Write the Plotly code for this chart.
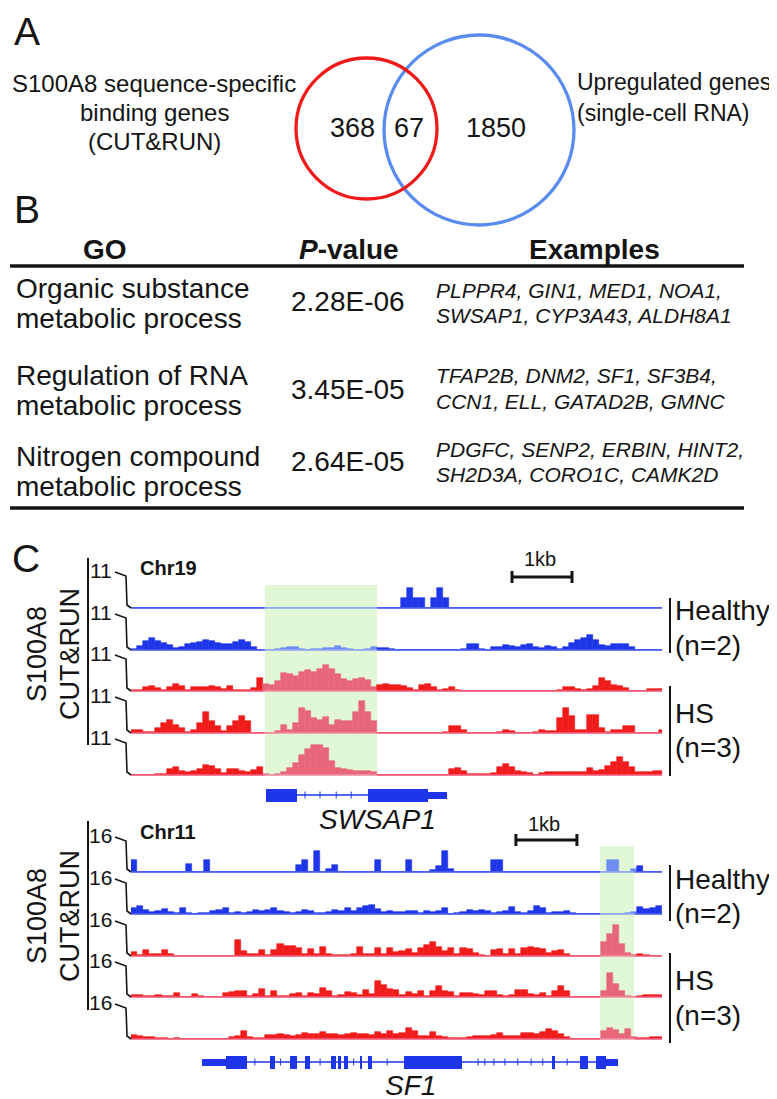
import plotly.graph_objects as go

# ======================= DATA =======================
# Panel A - Venn
venn_left_lines = ["S100A8 sequence-specific", "binding genes", "(CUT&RUN)"]
venn_right_lines = ["Upregulated genes", "(single-cell RNA)"]
venn_counts = [368, 67, 1850]  # CUT&RUN only, overlap, scRNA only

# Panel B - GO table
table_headers = ["<b>GO</b>", "<b><i>P</i>-value</b>", "<b>Examples</b>"]
go_terms = [["Organic substance", "metabolic process"],
            ["Regulation of RNA", "metabolic process"],
            ["Nitrogen compound", "metabolic process"]]
go_pvalues = ["2.28E-06", "3.45E-05", "2.64E-05"]
go_examples = [["PLPPR4, GIN1, MED1, NOA1,", "SWSAP1, CYP3A43, ALDH8A1"],
               ["TFAP2B, DNM2, SF1, SF3B4,", "CCN1, ELL, GATAD2B, GMNC"],
               ["PDGFC, SENP2, ERBIN, HINT2,", "SH2D3A, CORO1C, CAMK2D"]]

# Panel C - CUT&RUN coverage (0.1 kb bins)
bin_kb = 0.1
track_groups = ["Healthy", "Healthy", "HS", "HS", "HS"]
group_labels = {"Healthy": ["Healthy", "(n=2)"], "HS": ["HS", "(n=3)"]}

chr19_max = 11
chr19_view_kb = 8.85
chr19_highlight_kb = [2.23, 4.10]
chr19_scalebar_kb = [6.35, 7.35]
chr19_healthy_1 = [0, 0, 0, 0, 0, 0, 0, 0, 0, 0,
                   0, 0, 0, 0, 0, 0, 0, 0, 0, 0,
                   0, 0, 0, 0, 0, 0, 0, 0, 0, 0,
                   0, 0, 0, 0, 0, 0, 0, 0, 0, 0,
                   0, 0, 0, 0, 0, 2.9, 5.8, 2.9, 2.9, 0,
                   2.9, 5.8, 2.9, 0, 0, 0, 0, 0, 0, 0,
                   0, 0, 0, 0, 0, 0, 0, 0, 0, 0,
                   0, 0, 0, 0, 0, 0, 0, 0, 0, 0,
                   0, 0, 0, 0, 0, 0, 0, 0, 0]
chr19_healthy_2 = [0.2, 1.2, 2.5, 3.5, 2.6, 2.0, 1.5, 0.5, 1.0, 1.6,
                   2.0, 2.3, 2.9, 2.5, 2.0, 1.6, 1.7, 2.2, 2.9, 2.3,
                   1.0, 0, 0, 0, 0.2, 0.5, 1.0, 0.8, 0.3, 0,
                   0.2, 0.3, 0.6, 0.6, 1.1, 0.6, 0.2, 0, 0, 0.3,
                   0.8, 0.6, 0.6, 0.3, 0, 0, 0, 0, 0, 0,
                   0, 0, 0, 0, 0, 0.3, 1.6, 1.6, 0.3, 0,
                   0.8, 1.0, 1.5, 1.3, 1.0, 1.5, 1.6, 1.0, 0.6, 1.2,
                   1.0, 0.3, 0.8, 2.0, 3.0, 3.5, 4.2, 3.0, 1.5, 1.3,
                   1.6, 1.7, 1.6, 0.8, 0, 0, 0, 0, 0]
chr19_hs_1 = [0.3, 0.3, 1.2, 1.4, 1.0, 0.3, 1.3, 1.9, 1.5, 0.3,
              1.3, 1.3, 1.2, 1.5, 1.3, 0.5, 1.5, 0.3, 0.4, 0.4,
              0.8, 3.9, 2.0, 1.8, 3.0, 5.2, 5.0, 4.3, 5.5, 6.0,
              5.6, 6.4, 7.6, 6.3, 5.0, 3.5, 3.0, 3.5, 3.8, 3.2,
              1.3, 1.8, 1.9, 1.6, 1.8, 1.5, 1.0, 0.3, 1.7, 2.0,
              1.3, 0.2, 0.5, 1.3, 0.2, 0, 0, 0, 0, 0,
              0, 0, 0, 0, 0, 0, 0, 0, 0, 0,
              0, 0.3, 1.2, 1.1, 0.5, 0.4, 0.5, 1.5, 3.7, 2.8,
              1.6, 1.4, 1.0, 0, 0, 0, 0.5, 0.5, 0.5]
chr19_hs_2 = [0.8, 0.8, 0.2, 0.2, 1.5, 2.9, 3.8, 2.2, 1.5, 0.2,
              1.0, 3.0, 6.0, 3.5, 1.9, 0.5, 1.9, 3.5, 5.0, 3.5,
              0, 0, 0, 0, 0.5, 2.2, 1.0, 3.0, 7.3, 6.5,
              4.2, 3.8, 4.6, 2.4, 3.9, 3.4, 3.4, 6.0, 9.3, 6.0,
              3.5, 0, 0, 0, 0, 0, 0, 0, 0, 0,
              0, 0, 0.3, 1.9, 1.9, 1.0, 0, 0, 0, 0,
              0, 0.3, 0.8, 0.6, 0, 0, 0, 0.4, 0.8, 0.5,
              0.5, 4.3, 7.2, 4.8, 1.0, 1.0, 5.1, 5.1, 1.5, 0.3,
              0.9, 1.0, 1.9, 1.9, 0, 0, 0, 0, 0.8]
chr19_hs_3 = [0, 0, 0, 0, 0.2, 0.3, 1.8, 2.4, 1.2, 0.9,
              1.2, 1.6, 2.8, 2.5, 1.7, 0.5, 1.6, 1.6, 1.1, 0.9,
              1.5, 2.4, 0.3, 0, 0.3, 1.0, 2.0, 3.4, 5.8, 7.5,
              8.6, 8.8, 7.8, 4.0, 1.9, 1.8, 1.5, 1.3, 1.2, 1.2,
              1.0, 0, 0, 0, 0, 0, 0, 0, 0, 0,
              0, 0, 0, 1.6, 2.1, 1.2, 0.4, 0.2, 0.2, 0.2,
              0.6, 2.2, 3.2, 2.4, 1.3, 1.0, 0.7, 0, 0.6, 0.8,
              0.8, 0.9, 0.8, 0.9, 0.9, 1.0, 1.9, 1.3, 1.5, 2.6,
              3.8, 5.3, 3.8, 2.2, 0.8, 0.9, 0.9, 1.2, 1.2]

chr11_max = 16
chr11_view_kb = 8.705
chr11_highlight_kb = [7.69, 8.25]
chr11_scalebar_kb = [6.31, 7.31]
chr11_healthy_1 = [5.3, 0, 0, 0, 0, 0, 0, 0, 0, 3.5,
                   0, 0, 5.3, 0, 0, 0, 0, 0, 0, 0,
                   0, 0, 0, 0, 0, 0, 0, 3.0, 5.3, 0,
                   8.9, 0, 1.5, 2.9, 0, 0, 0, 0, 0, 0,
                   5.3, 0, 0, 0, 0, 5.3, 0, 0, 0, 1.0,
                   2.4, 8.9, 1.2, 0, 0, 0, 0, 0, 0, 5.3,
                   5.3, 0, 0, 0, 0, 0, 0, 0, 0, 0,
                   0, 0, 0, 0, 0, 0, 0, 0, 5.3, 5.3,
                   0, 0, 1.5, 2.4, 0, 0, 0]
chr11_healthy_2 = [2.5, 3.6, 1.7, 0.9, 1.5, 2.0, 0.9, 0.6, 2.4, 0.3,
                   0, 0.3, 0.3, 1.3, 1.6, 2.5, 0.5, 1.0, 0.5, 1.0,
                   1.8, 1.3, 1.8, 2.8, 1.1, 0.8, 0.6, 1.0, 1.8, 1.2,
                   0.4, 0.5, 0.9, 1.6, 1.2, 2.7, 1.5, 2.6, 3.3, 4.0,
                   2.2, 1.0, 1.2, 1.0, 1.0, 1.5, 1.3, 0.6, 1.1, 1.0,
                   1.2, 2.5, 0.2, 0.3, 0.8, 1.6, 1.2, 1.6, 1.1, 0.6,
                   1.0, 1.2, 3.0, 1.0, 0.6, 1.5, 3.6, 2.5, 0.6, 1.0,
                   0.8, 1.2, 0.4, 0, 0, 0, 0, 0, 0, 0,
                   0, 0.4, 1.0, 3.0, 2.0, 2.5, 3.3]
chr11_hs_1 = [1.6, 0.6, 2.8, 0.8, 0.8, 2.6, 1.0, 0.2, 0, 0,
              0, 0, 0, 0, 0, 0, 0, 7.0, 2.0, 0.8,
              1.0, 2.5, 0.5, 2.5, 5.0, 4.5, 4.2, 3.3, 1.0, 3.0,
              0.7, 4.0, 0.8, 0.4, 0.4, 0.4, 0.8, 4.0, 0.7, 1.0,
              3.6, 1.0, 3.3, 1.6, 2.0, 3.0, 1.5, 3.3, 4.8, 6.0,
              4.0, 2.0, 3.3, 1.0, 3.3, 3.0, 1.2, 0.3, 0.2, 2.5,
              3.0, 1.0, 3.0, 1.0, 3.5, 4.0, 3.6, 3.0, 1.2, 2.2,
              2.6, 0.8, 0, 0, 0, 0, 0, 6.0, 9.5, 13.5,
              5.0, 1.2, 0.5, 0.7, 0.3, 0, 0]
chr11_hs_2 = [0.9, 1.0, 0.4, 0.4, 1.0, 0.4, 0.4, 1.7, 0.2, 0.2,
              1.2, 0.3, 0.2, 0.2, 0.2, 1.8, 2.0, 2.4, 2.6, 0.4,
              1.5, 3.5, 0.4, 2.8, 0.5, 0.4, 1.5, 1.8, 0.5, 1.8,
              1.2, 3.8, 2.5, 0.3, 1.0, 2.0, 1.8, 0.8, 3.0, 1.5,
              6.9, 5.0, 3.6, 2.9, 0.7, 2.0, 1.4, 2.6, 0.3, 2.5,
              4.8, 2.6, 2.2, 0.5, 1.9, 1.9, 1.2, 0.7, 2.6, 2.6,
              0.8, 0.4, 0.7, 3.0, 3.0, 1.2, 1.0, 1.8, 0.4, 2.6,
              4.8, 2.8, 0.2, 0, 0, 0, 0, 2.5, 10.5, 5.5,
              2.5, 0.4, 0, 0.4, 0.7, 0.7, 1.0]
chr11_hs_3 = [1.6, 1.4, 1.0, 0.8, 0.6, 0.4, 0.1, 0.6, 0.1, 0.1,
              0.1, 0.1, 0.1, 0.1, 0.1, 0.1, 0.8, 1.5, 3.6, 1.0,
              0.3, 0.5, 1.7, 1.7, 2.2, 1.8, 1.3, 1.7, 2.4, 2.0,
              2.2, 2.9, 2.0, 2.2, 1.6, 2.0, 2.4, 2.0, 2.2, 1.8,
              2.9, 2.2, 3.5, 2.0, 2.8, 4.9, 3.5, 1.3, 1.3, 3.2,
              1.3, 1.0, 0.4, 0.3, 0.3, 0.8, 1.4, 1.3, 1.5, 1.6,
              2.6, 1.4, 1.2, 1.4, 2.4, 2.5, 2.3, 3.2, 4.5, 3.6,
              2.0, 1.0, 0.2, 0, 0, 0, 0, 3.5, 4.6, 4.0,
              2.0, 4.3, 0.8, 0.6, 0.6, 0.7, 0.9]

# Gene models (kb within view)
swsap1_exon_start = [2.25, 3.95, 4.95]
swsap1_exon_end = [2.77, 4.95, 5.27]
swsap1_exon_type = ["cds", "cds", "utr"]
swsap1_intron_marks = [2.90, 3.15, 3.42, 3.67]

sf1_exon_start = [1.16, 1.56, 2.28, 2.61, 2.85, 3.28, 3.39, 3.49, 3.75, 3.89, 4.48, 6.90, 7.36, 7.62, 7.79]
sf1_exon_end = [1.56, 1.90, 2.36, 2.72, 2.93, 3.36, 3.44, 3.56, 3.79, 3.95, 5.43, 6.95, 7.49, 7.79, 7.98]
sf1_exon_type = ["utr", "cds", "cds", "cds", "cds", "cds", "cds", "cds", "cds", "cds", "cds", "cds", "cds", "cds", "utr"]
sf1_intron_marks = [2.03, 2.45, 3.10, 3.65, 4.20, 5.69, 5.80, 5.95, 6.13, 6.34, 6.56, 6.75, 7.15]

# ======================= STYLE / LAYOUT =======================
W, H = 777, 1099
FONT = "Liberation Sans, Arial, Helvetica, sans-serif"
INK = "#141414"
BLUE = "#1f35e8"
BLUE_HL = "#6f8ef2"
RED = "#f01c1c"
RED_HL = "#e8667a"
BASE = {"Healthy": "#4458f0", "HS": "#f0587a"}
BASE_HL = {"Healthy": "#93a6f5", "HS": "#f08ea2"}
BAR = {"Healthy": BLUE, "HS": RED}
BAR_HL = {"Healthy": BLUE_HL, "HS": RED_HL}
GREEN = "#e2f7d5"
GENE = "#1f35e8"
VENN_RED = "#f01a1a"
VENN_BLUE = "#5a8cf0"


def fx(x):
    return x / W


def fy(y):
    return 1 - y / H


annotations = []
shapes = []
layout = {}
fig = go.Figure()


def add_text(x, y, s, size, anchor="center", angle=0, color=INK):
    annotations.append(dict(text=s, x=fx(x), y=fy(y), xref="paper", yref="paper",
                            showarrow=False, xanchor=anchor, yanchor="middle",
                            textangle=angle, borderpad=0,
                            font=dict(family=FONT, size=size, color=color)))


def add_line(x0, y0, x1, y1, color=INK, width=2):
    shapes.append(dict(type="line", xref="paper", yref="paper",
                       x0=fx(x0), y0=fy(y0), x1=fx(x1), y1=fy(y1),
                       line=dict(color=color, width=width)))


# ---------- Panel A ----------
add_text(19, 24, "A", 39)
for cx, cy, r, col in [(471, 122, 95, VENN_BLUE), (358.5, 120.5, 70.5, VENN_RED)]:
    shapes.append(dict(type="circle", xref="paper", yref="paper",
                       x0=fx(cx - r), x1=fx(cx + r), y0=fy(cy + r), y1=fy(cy - r),
                       line=dict(color=col, width=3.3)))
for s, y in zip(venn_left_lines, [75.5, 104.5, 133.5]):
    add_text(146, y, s, 24)
for s, y in zip(venn_right_lines, [74, 104.5]):
    add_text(568, y, s, 23, anchor="left")
for v, x in zip(venn_counts, [344.5, 401, 488]):
    add_text(x, 120, str(v), 27)

# ---------- Panel B ----------
add_text(19, 201, "B", 39)
for s, x in zip(table_headers, [97, 341, 586]):
    add_text(x, 241, s, 28)
add_line(2, 258, 736, 258, width=3.5)
add_line(2, 500, 736, 500, width=3.5)
row_go = [280.5, 367, 448.5]
row_p = [294, 382, 453]
row_ex = [282.5, 368, 441.5]
for i in range(3):
    add_text(7, row_go[i], go_terms[i][0], 28, anchor="left")
    add_text(7, row_go[i] + 30, go_terms[i][1], 28, anchor="left")
    add_text(340, row_p[i], go_pvalues[i], 28)
    add_text(427, row_ex[i], "<i>%s</i>" % go_examples[i][0], 21, anchor="left")
    add_text(427, row_ex[i] + 25, "<i>%s</i>" % go_examples[i][1], 21, anchor="left")

# ---------- Panel C ----------
add_text(18, 550, "C", 39)

sections = [
    dict(tracks=[chr19_healthy_1, chr19_healthy_2, chr19_hs_1, chr19_hs_2, chr19_hs_3],
         vmax=chr19_max, view=chr19_view_kb, hl=chr19_highlight_kb, sb=chr19_scalebar_kb,
         baselines=[600, 642, 683, 725, 767], h=38, hl_top=577,
         chrom="Chr19", chrom_y=560, sb_y=569, sb_text_y=551, sb_text_x=532,
         side_y=646, left_line=(550, 737),
         healthy_bar=(590, 645), healthy_text=(602, 637),
         hs_bar=(678, 768), hs_text=(705, 740),
         gene=(swsap1_exon_start, swsap1_exon_end, swsap1_exon_type, swsap1_intron_marks),
         gene_center=787, gene_name="SWSAP1", gene_label=(369, 812)),
    dict(tracks=[chr11_healthy_1, chr11_healthy_2, chr11_hs_1, chr11_hs_2, chr11_hs_3],
         vmax=chr11_max, view=chr11_view_kb, hl=chr11_highlight_kb, sb=chr11_scalebar_kb,
         baselines=[864, 906, 948, 989, 1031], h=37, hl_top=838,
         chrom="Chr11", chrom_y=824, sb_y=832, sb_text_y=816, sb_text_x=536,
         side_y=908, left_line=(813, 1002),
         healthy_bar=(857, 913), healthy_text=(871, 905),
         hs_bar=(945, 1035), hs_text=(972, 1007),
         gene=(sf1_exon_start, sf1_exon_end, sf1_exon_type, sf1_intron_marks),
         gene_center=1054, gene_name="SF1", gene_label=(402, 1077)),
]

X0, X1 = 123, 654
PAD = 2.0
k = 0
for sec in sections:
    first_x = None
    for t, vals in enumerate(sec["tracks"]):
        k += 1
        sfx = "" if k == 1 else str(k)
        xn, yn = "x" + sfx, "y" + sfx
        if first_x is None:
            first_x = xn
        B = sec["baselines"][t]
        h = sec["h"]
        vmax = sec["vmax"]
        grp = track_groups[t]
        layout["xaxis" + sfx] = dict(domain=[fx(X0), fx(X1)], range=[0, sec["view"]],
                                     visible=False, fixedrange=True, anchor=yn)
        layout["yaxis" + sfx] = dict(domain=[fy(B + PAD), fy(B - h)],
                                     range=[-vmax * PAD / h, vmax],
                                     visible=False, fixedrange=True, anchor=xn)
        xs = [bin_kb * (i + 0.5) for i in range(len(vals))]
        lo, hi = sec["hl"]
        cols = [BAR_HL[grp] if lo <= x <= hi else BAR[grp] for x in xs]
        fig.add_trace(go.Bar(x=xs, y=vals, width=bin_kb, xaxis=xn, yaxis=yn,
                             marker=dict(color=cols, line=dict(color=cols, width=0.6)),
                             hoverinfo="skip", showlegend=False))
        for a, b, c in [(0, lo, BASE[grp]), (lo, hi, BASE_HL[grp]), (hi, sec["view"], BASE[grp])]:
            shapes.append(dict(type="line", xref=xn, yref=yn, x0=a, x1=b, y0=0, y1=0,
                               line=dict(color=c, width=1.4), layer="above"))
        L = B - h
        add_text(105, L, str(vmax), 21, anchor="right")
        path = "M %f,%f L %f,%f L %f,%f L %f,%f" % (
            fx(107), fy(L + 2), fx(118), fy(L + 6), fx(119), fy(B - 3), fx(123), fy(B))
        shapes.append(dict(type="path", xref="paper", yref="paper", path=path,
                           line=dict(color=INK, width=1.6)))

    lo, hi = sec["hl"]
    shapes.append(dict(type="rect", xref=first_x, yref="paper", x0=lo, x1=hi,
                       y0=fy(sec["baselines"][-1]), y1=fy(sec["hl_top"]),
                       fillcolor=GREEN, line=dict(width=0), layer="below"))
    a, b = sec["sb"]
    yb = sec["sb_y"]
    shapes.append(dict(type="line", xref=first_x, yref="paper", x0=a, x1=b, y0=fy(yb), y1=fy(yb),
                       line=dict(color=INK, width=3)))
    for xx in (a, b):
        shapes.append(dict(type="line", xref=first_x, yref="paper", x0=xx, x1=xx,
                           y0=fy(yb - 6), y1=fy(yb + 6), line=dict(color=INK, width=3)))
    add_text(sec["sb_text_x"], sec["sb_text_y"], "1kb", 20)

    add_text(131, sec["chrom_y"], "<b>%s</b>" % sec["chrom"], 20, anchor="left")
    add_text(29, sec["side_y"], "S100A8", 27, angle=-90)
    add_text(62, sec["side_y"], "CUT&amp;RUN", 27, angle=-90)
    add_line(80, sec["left_line"][0], 80, sec["left_line"][1], width=2)
    add_line(662, sec["healthy_bar"][0], 662, sec["healthy_bar"][1], width=2)
    add_line(662, sec["hs_bar"][0], 662, sec["hs_bar"][1], width=2)
    for s, y in zip(group_labels["Healthy"], sec["healthy_text"]):
        add_text(666, y, s, 28, anchor="left")
    for s, y in zip(group_labels["HS"], sec["hs_text"]):
        add_text(666, y, s, 28, anchor="left")

    k += 1
    sfx = str(k)
    xn, yn = "x" + sfx, "y" + sfx
    gc = sec["gene_center"]
    layout["xaxis" + sfx] = dict(domain=[fx(X0), fx(X1)], range=[0, sec["view"]],
                                 visible=False, fixedrange=True, anchor=yn)
    layout["yaxis" + sfx] = dict(domain=[fy(gc + 10), fy(gc - 10)], range=[-1, 1],
                                 visible=False, fixedrange=True, anchor=xn)
    starts, ends, types, marks = sec["gene"]
    half = [0.65 if tp == "cds" else 0.35 for tp in types]
    fig.add_trace(go.Scatter(x=[min(starts), max(ends)], y=[0, 0], mode="lines",
                             line=dict(color=GENE, width=1.5), xaxis=xn, yaxis=yn,
                             hoverinfo="skip", showlegend=False))
    fig.add_trace(go.Scatter(x=marks, y=[0] * len(marks), mode="markers",
                             marker=dict(symbol="line-ns-open", size=5, color=GENE,
                                         line=dict(width=1, color=GENE)),
                             xaxis=xn, yaxis=yn, hoverinfo="skip", showlegend=False))
    fig.add_trace(go.Bar(x=[(s + e) / 2 for s, e in zip(starts, ends)],
                         width=[e - s for s, e in zip(starts, ends)],
                         base=[-hh for hh in half], y=[2 * hh for hh in half],
                         marker=dict(color=GENE, line=dict(width=0)),
                         xaxis=xn, yaxis=yn, hoverinfo="skip", showlegend=False))
    gx, gy = sec["gene_label"]
    add_text(gx, gy, "<i>%s</i>" % sec["gene_name"], 28)

fig.update_layout(**layout)
fig.update_layout(width=W, height=H, autosize=False,
                  margin=dict(l=0, r=0, t=0, b=0, pad=0),
                  paper_bgcolor="white", plot_bgcolor="rgba(0,0,0,0)",
                  showlegend=False, barmode="overlay", bargap=0,
                  annotations=annotations, shapes=shapes,
                  font=dict(family=FONT, color=INK))
fig.write_html("out.html")
